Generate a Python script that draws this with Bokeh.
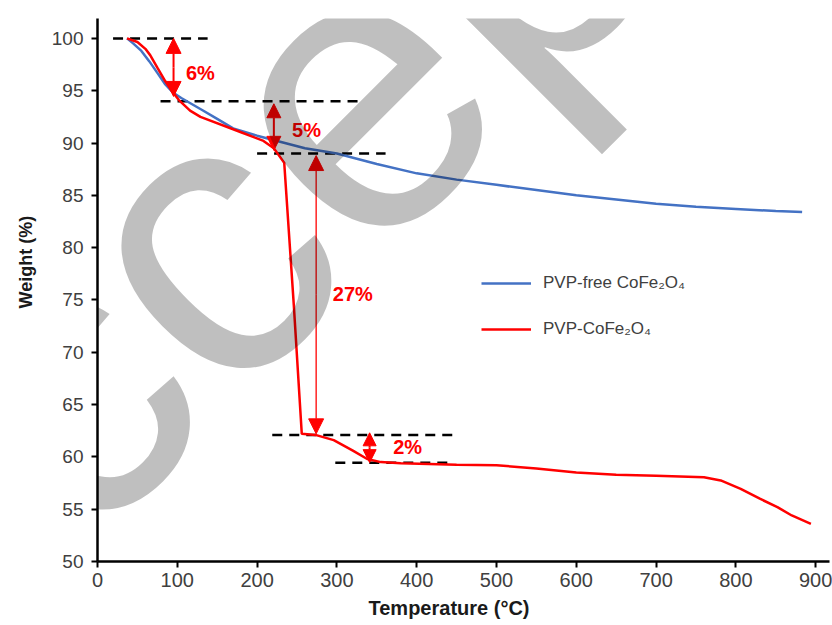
from bokeh.plotting import figure
from bokeh.models import (Range1d, FixedTicker, Arrow, NormalHead, Label,
                          Legend, LegendItem, Title)
from bokeh.core.properties import value
from bokeh.embed import file_html
from bokeh.resources import INLINE

# ---------------- data ----------------
blue_T = [37, 45, 55, 65, 75, 85, 95, 105, 130, 150, 170, 200, 230, 260, 300,
          350, 400, 450, 500, 550, 600, 650, 700, 750, 800, 850, 883]
blue_W = [100, 99.5, 98.8, 97.8, 96.7, 95.6, 94.8, 94.3, 93.2, 92.3, 91.4, 90.7,
          90.1, 89.5, 89.0, 88.0, 87.1, 86.5, 86.0, 85.5, 85.0, 84.6, 84.2, 83.9,
          83.7, 83.5, 83.4]

red_T = [37, 50, 60, 66, 75, 85, 92, 102, 116, 129, 179, 208, 221, 234, 246, 256,
         273, 296, 320, 338, 355, 380, 450, 500, 550, 600, 650, 700, 760, 781,
         806, 830, 852, 870, 894]
red_W = [100, 99.65, 99.0, 98.4, 97.2, 95.9, 95.1, 94.1, 93.1, 92.5, 91.05, 90.2,
         89.5, 88.1, 74.5, 62.2, 62.1, 61.6, 60.6, 59.8, 59.5, 59.4, 59.25, 59.2,
         58.9, 58.5, 58.3, 58.2, 58.05, 57.75, 56.95, 56.0, 55.2, 54.4, 53.6]

series_names = ["PVP-free CoFe\u2082O\u2084", "PVP-CoFe\u2082O\u2084"]

# dashed reference levels: (level, T start, T end)
dash_level = [100, 94, 89, 62.1, 59.45]
dash_T0 = [19.5, 79, 200, 219, 298]
dash_T1 = [138, 327, 361, 451, 442]

# mass-loss arrows
arrow_T = [95.3, 221, 274, 341]
arrow_top = [100, 93.75, 88.8, 62.3]
arrow_bot = [94.45, 89.3, 62.2, 59.45]
arrow_text = ["6%", "5%", "27%", "2%"]
label_T = [129, 262, 320, 388.6]
label_W = [96.68, 91.27, 75.6, 60.93]

x_ticks = [0, 100, 200, 300, 400, 500, 600, 700, 800, 900]
y_ticks = [50, 55, 60, 65, 70, 75, 80, 85, 90, 95, 100]

x_title = "Temperature (\u00b0C)"
y_title = "Weight (%)"
watermark = "Accepted"

FONT = "Liberation Sans"
BLUE = "#4472C4"
RED = "#FF0000"

p = figure(width=832, height=625, output_backend="svg", toolbar_location=None,
           x_range=Range1d(0, 917.3), y_range=Range1d(50, 101.9),
           min_border_left=97, min_border_right=3, min_border_top=18,
           min_border_bottom=64)
p.outline_line_color = None
p.xgrid.visible = False
p.ygrid.visible = False
p.background_fill_color = "white"
p.border_fill_color = "white"

for ax, ticks, fs in ((p.xaxis[0], x_ticks, "20px"), (p.yaxis[0], y_ticks, "19px")):
    ax.ticker = FixedTicker(ticks=ticks)
    ax.axis_line_color = "black"
    ax.axis_line_width = 2.5
    ax.major_tick_line_color = "black"
    ax.major_tick_line_width = 2
    ax.major_tick_out = 6
    ax.major_tick_in = 0
    ax.minor_tick_line_color = None
    ax.major_label_text_font = FONT
    ax.major_label_text_font_size = fs
    ax.major_label_text_color = "#404040"
p.yaxis[0].major_label_standoff = 8
p.xaxis[0].major_label_standoff = 5

# axis titles as side titles (so they can be shifted like the reference)
p.add_layout(Title(text=x_title, align="left", offset=271, standoff=10,
                   text_font=FONT, text_font_style="bold", text_font_size="20px",
                   text_color="#1a1a1a"), "below")
p.add_layout(Title(text=y_title, align="left", offset=253, standoff=26,
                   text_font=FONT, text_font_style="bold", text_font_size="18px",
                   text_color="#1a1a1a"), "left")

# dashed lines
p.segment(x0=dash_T0, y0=dash_level, x1=dash_T1, y1=dash_level,
          line_color="black", line_width=2.5, line_dash="10 7")

# curves
r_blue = p.line(blue_T, blue_W, line_color=BLUE, line_width=2.5)
r_red = p.line(red_T, red_W, line_color=RED, line_width=2.5)

# arrows
widths = [2, 2, 1.3, 2]
sizes = [15, 14, 15, 13]
for t, a, b, w, s in zip(arrow_T, arrow_top, arrow_bot, widths, sizes):
    p.add_layout(Arrow(x_start=t, y_start=(a + b) / 2, x_end=t, y_end=a,
                       line_color=RED, line_width=w,
                       end=NormalHead(size=s, fill_color=RED, line_color=RED, line_width=1)))
    p.add_layout(Arrow(x_start=t, y_start=(a + b) / 2, x_end=t, y_end=b,
                       line_color=RED, line_width=w,
                       end=NormalHead(size=s, fill_color=RED, line_color=RED, line_width=1)))

p.text(x=label_T, y=label_W, text=arrow_text, text_color=RED,
       text_font=value(FONT), text_font_style="bold", text_font_size="20px",
       text_align="center", text_baseline="middle")

# legend
legend = Legend(items=[LegendItem(label=series_names[0], renderers=[r_blue]),
                       LegendItem(label=series_names[1], renderers=[r_red])],
                location=(384, 222), padding=0, margin=0, spacing=26,
                glyph_width=50, glyph_height=20, label_height=20,
                label_standoff=12, label_text_font=FONT,
                label_text_font_size="17px", label_text_color="#404040",
                border_line_alpha=0, background_fill_alpha=0)
p.add_layout(legend)

# watermark (translucent, on top)
p.add_layout(Label(x=-203, y=645, x_units="canvas", y_units="canvas",
                   text=watermark, angle=0.7854, text_font=FONT,
                   text_font_size="400px", text_color="black", text_alpha=0.25,
                   text_align="left", text_baseline="alphabetic", level="overlay"))

open("out.html", "w").write(file_html(p, INLINE))
